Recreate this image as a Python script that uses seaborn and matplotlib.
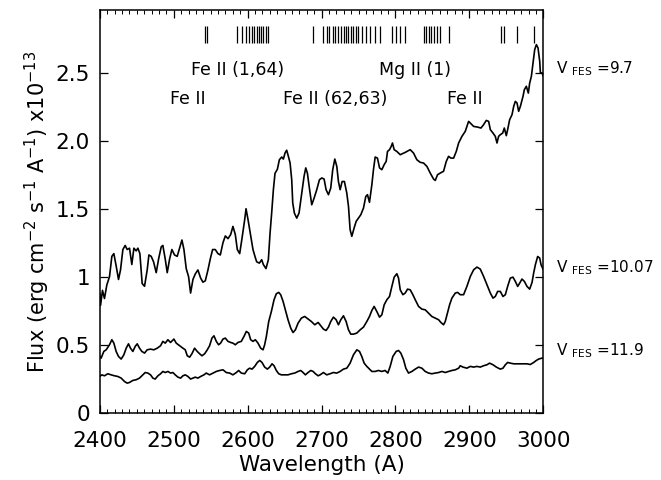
import numpy as np
import pandas as pd
import matplotlib
matplotlib.use("Agg")
import matplotlib.pyplot as plt
from matplotlib.ticker import MultipleLocator, FixedLocator, FixedFormatter
import seaborn as sns

# --- spectrum for V_FES = 9.7 (top) ---
wave_97 = [2400, 2401, 2403.6, 2406.3, 2409.5, 2413.1, 2416.3, 2419.0, 2422.1, 2425.3,
           2428.0, 2431.2, 2434.3, 2437.0, 2440.2, 2443.3, 2446.1, 2449.2, 2451.5, 2454.2,
           2457.3, 2460.5, 2464.1, 2466.4, 2469.5, 2472.7, 2476.3, 2479.5, 2483.1, 2485.3,
           2488.5, 2491.2, 2494.4, 2497.5, 2501.1, 2504.7, 2507.9, 2511.1, 2513.8, 2516.9,
           2520.1, 2522.8, 2526.0, 2529.1, 2532.7, 2536.4, 2539.5, 2542.7, 2546.3, 2549.4,
           2552.6, 2556.2, 2559.8, 2563.0, 2566.6, 2569.8, 2573.4, 2577.0, 2580.1, 2583.3,
           2586.0, 2589.2, 2592.3, 2596.0, 2597.8, 2600.5, 2604.1, 2607.2, 2610.4, 2612.2,
           2615.8, 2619.0, 2621.2, 2624.8, 2628.0, 2630.3, 2632.5, 2634.8, 2637.0, 2640.2,
           2642.9, 2646.1, 2648.3, 2650.6, 2652.8, 2655.1, 2657.4, 2659.6, 2661.0, 2663.2,
           2666.4, 2669.5, 2673.2, 2676.3, 2678.6, 2680.8, 2683.5, 2686.7, 2689.9, 2693.5,
           2697.1, 2700.3, 2703.4, 2706.1, 2709.3, 2712.4, 2715.1, 2717.9, 2720.6, 2722.8,
           2725.1, 2727.8, 2730.9, 2734.1, 2736.4, 2738.6, 2740.9, 2744.0, 2746.8, 2749.9,
           2753.1, 2756.7, 2759.8, 2762.1, 2764.8, 2768.0, 2770.2, 2772.5, 2775.6, 2778.4,
           2781.5, 2784.7, 2787.4, 2789.2, 2791.9, 2794.2, 2795.9, 2798.2, 2801.8, 2806.4,
           2813.1, 2819.9, 2824.4, 2828.9, 2833.4, 2837.9, 2842.5, 2847.0, 2851.5, 2853.8,
           2856.9, 2860.5, 2865.0, 2868.7, 2871.8, 2875.0, 2878.6, 2882.2, 2885.4, 2889.9,
           2894.4, 2898.9, 2902.1, 2905.7, 2911.0, 2915.6, 2919.2, 2922.8, 2926.0, 2928.3,
           2931.9, 2935.0, 2937.3, 2939.5, 2941.8, 2945.0, 2947.2, 2949.9, 2951.7, 2954.4,
           2957.6, 2959.9, 2962.1, 2964.4, 2966.6, 2968.9, 2972.5, 2974.3, 2977.0, 2979.7,
           2981.5, 2983.8, 2986.1, 2988.3, 2990.6, 2992.8, 2995.1, 2996.0, 2998.2, 3000]
flux_97 = [0.88, 0.79, 0.90, 0.84, 0.94, 1.00, 1.15, 1.17, 1.08, 0.98,
           1.05, 1.20, 1.23, 1.20, 1.21, 1.09, 1.21, 1.19, 1.21, 1.17,
           0.95, 0.93, 1.05, 1.16, 1.15, 1.11, 1.03, 1.13, 1.22, 1.23,
           1.13, 1.03, 1.13, 1.20, 1.16, 1.15, 1.21, 1.27, 1.20, 1.06,
           1.00, 0.88, 0.98, 1.02, 1.05, 0.99, 0.96, 0.97, 1.05, 1.13,
           1.20, 1.20, 1.17, 1.16, 1.25, 1.30, 1.28, 1.31, 1.37, 1.31,
           1.20, 1.17, 1.28, 1.42, 1.50, 1.42, 1.30, 1.20, 1.14, 1.11,
           1.10, 1.125, 1.09, 1.06, 1.125, 1.32, 1.47, 1.64, 1.76, 1.79,
           1.86, 1.88, 1.865, 1.91, 1.93, 1.885, 1.836, 1.713, 1.542, 1.468,
           1.431, 1.468, 1.615, 1.738, 1.80, 1.762, 1.652, 1.529, 1.578, 1.64,
           1.713, 1.726, 1.718, 1.64, 1.603, 1.652, 1.787, 1.865, 1.811, 1.70,
           1.64, 1.70, 1.70, 1.615, 1.517, 1.346, 1.297, 1.358, 1.407, 1.431,
           1.456, 1.505, 1.59, 1.603, 1.547, 1.676, 1.787, 1.88, 1.872, 1.80,
           1.787, 1.824, 1.848, 1.921, 1.934, 1.958, 1.983, 1.934, 1.921, 1.897,
           1.914, 1.934, 1.909, 1.86, 1.841, 1.836, 1.811, 1.762, 1.718, 1.708,
           1.75, 1.762, 1.775, 1.848, 1.885, 1.872, 1.872, 1.921, 1.983, 2.032,
           2.069, 2.142, 2.125, 2.105, 2.10, 2.093, 2.118, 2.149, 2.142, 2.081,
           2.056, 2.032, 1.983, 2.032, 2.044, 2.056, 2.093, 2.037, 2.081, 2.154,
           2.191, 2.252, 2.289, 2.277, 2.216, 2.252, 2.326, 2.375, 2.40, 2.35,
           2.423, 2.473, 2.571, 2.669, 2.706, 2.682, 2.583, 2.498, 2.498, 2.473]

# --- spectrum for V_FES = 10.07 (middle) ---
wave_1007 = [2400, 2401.8, 2405.4, 2408.6, 2413.1, 2416.3, 2419.0, 2422.1, 2425.3, 2428.9,
             2432.5, 2435.7, 2438.8, 2441.5, 2444.7, 2447.9, 2450.6, 2453.7, 2456.9, 2460.5,
             2464.1, 2468.6, 2473.1, 2477.7, 2482.2, 2485.3, 2488.5, 2492.1, 2495.7, 2500.2,
             2503.4, 2507.9, 2512.4, 2515.6, 2518.3, 2521.5, 2524.6, 2528.2, 2531.8, 2535.0,
             2538.2, 2541.8, 2545.4, 2548.5, 2551.7, 2554.4, 2557.6, 2560.7, 2563.4, 2566.6,
             2569.8, 2573.4, 2577.0, 2580.1, 2583.3, 2586.9, 2591.4, 2595.0, 2598.2, 2601.4,
             2604.1, 2607.2, 2610.4, 2614.0, 2617.6, 2620.8, 2623.0, 2625.3, 2628.5, 2632.1,
             2635.7, 2638.8, 2642.0, 2644.7, 2647.9, 2651.0, 2654.6, 2658.3, 2661.4, 2664.6,
             2668.2, 2672.7, 2677.2, 2681.7, 2686.2, 2690.8, 2695.3, 2697.9, 2702.5, 2706.1,
             2709.3, 2712.4, 2716.0, 2719.7, 2722.8, 2726.0, 2729.6, 2733.2, 2736.4, 2739.5,
             2743.1, 2747.7, 2752.2, 2756.7, 2761.2, 2764.8, 2768.0, 2771.1, 2774.7, 2778.4,
             2781.5, 2784.7, 2788.3, 2791.9, 2795.1, 2798.2, 2801.8, 2804.1, 2806.4, 2810.0,
             2813.1, 2816.3, 2819.9, 2823.5, 2826.7, 2831.2, 2835.7, 2840.2, 2844.7, 2849.2,
             2853.8, 2858.3, 2861.4, 2865.0, 2867.3, 2869.6, 2873.2, 2876.3, 2880.9, 2884.0,
             2887.6, 2892.1, 2896.6, 2901.2, 2905.7, 2910.2, 2914.7, 2919.2, 2923.7, 2928.3,
             2931.9, 2935.0, 2938.2, 2941.8, 2945.4, 2948.6, 2951.7, 2955.3, 2958.9, 2962.1,
             2965.3, 2968.0, 2971.1, 2974.3, 2977.9, 2981.5, 2984.7, 2986.9, 2989.2, 2992.3,
             2995.1, 2996.9, 3000]
flux_1007 = [0.414, 0.402, 0.451, 0.463, 0.50, 0.537, 0.512, 0.451, 0.414, 0.395,
             0.426, 0.475, 0.507, 0.475, 0.451, 0.488, 0.507, 0.475, 0.451, 0.439,
             0.463, 0.468, 0.463, 0.475, 0.493, 0.525, 0.512, 0.537, 0.517, 0.542,
             0.512, 0.493, 0.475, 0.463, 0.419, 0.409, 0.434, 0.475, 0.451, 0.434,
             0.419, 0.434, 0.463, 0.493, 0.549, 0.566, 0.525, 0.50, 0.512, 0.542,
             0.549, 0.525, 0.517, 0.512, 0.50, 0.517, 0.525, 0.561, 0.598, 0.586,
             0.537, 0.525, 0.537, 0.512, 0.475, 0.463, 0.50, 0.561, 0.671, 0.745,
             0.831, 0.875, 0.885, 0.868, 0.819, 0.757, 0.684, 0.622, 0.59, 0.61,
             0.659, 0.696, 0.708, 0.689, 0.671, 0.647, 0.664, 0.647, 0.615, 0.605,
             0.630, 0.671, 0.703, 0.684, 0.647, 0.684, 0.713, 0.671, 0.61, 0.578,
             0.578, 0.586, 0.61, 0.630, 0.671, 0.708, 0.752, 0.782, 0.745, 0.703,
             0.72, 0.794, 0.831, 0.855, 0.929, 0.997, 1.022, 0.99, 0.904, 0.868,
             0.88, 0.909, 0.904, 0.868, 0.831, 0.782, 0.762, 0.757, 0.733, 0.708,
             0.696, 0.684, 0.664, 0.647, 0.671, 0.72, 0.794, 0.843, 0.88, 0.885,
             0.868, 0.868, 0.929, 1.002, 1.051, 1.071, 1.056, 1.002, 0.941, 0.88,
             0.843, 0.855, 0.892, 0.892, 0.855, 0.868, 0.929, 0.99, 0.997, 0.966,
             0.929, 0.953, 0.983, 0.966, 0.929, 0.909, 0.958, 1.027, 1.088, 1.149,
             1.137, 1.088, 1.051]

# --- spectrum for V_FES = 11.9 (bottom) ---
wave_119 = [2400, 2402.7, 2406.3, 2410.8, 2415.3, 2419.9, 2424.4, 2428.9, 2433.4, 2437.0,
            2440.2, 2444.7, 2449.2, 2453.7, 2458.2, 2461.4, 2465.0, 2468.6, 2471.8, 2474.9,
            2478.6, 2482.2, 2485.3, 2488.5, 2492.1, 2495.7, 2498.9, 2502.0, 2505.7, 2509.3,
            2512.4, 2515.6, 2519.2, 2522.8, 2526.0, 2529.1, 2532.7, 2536.4, 2540.9, 2544.0,
            2548.5, 2553.1, 2557.6, 2562.1, 2566.6, 2571.1, 2575.6, 2580.1, 2584.7, 2587.8,
            2591.4, 2596.0, 2599.6, 2602.7, 2605.9, 2609.5, 2613.1, 2616.3, 2619.4, 2623.0,
            2626.6, 2629.8, 2633.0, 2635.7, 2638.8, 2642.0, 2645.6, 2650.1, 2654.6, 2659.2,
            2663.7, 2668.2, 2671.8, 2675.0, 2678.1, 2681.7, 2685.4, 2688.5, 2691.7, 2695.3,
            2698.0, 2702.5, 2707.0, 2711.5, 2716.0, 2720.6, 2725.1, 2729.6, 2734.1, 2738.6,
            2743.1, 2747.7, 2751.3, 2754.4, 2757.6, 2761.2, 2764.8, 2768.0, 2772.5, 2777.0,
            2781.5, 2786.0, 2789.6, 2792.8, 2796.4, 2800.9, 2804.1, 2807.2, 2810.9, 2814.0,
            2817.6, 2822.2, 2826.7, 2831.2, 2835.7, 2840.2, 2844.7, 2849.2, 2853.8, 2858.3,
            2862.8, 2867.3, 2871.8, 2876.3, 2880.9, 2885.4, 2887.6, 2891.2, 2896.6, 2901.2,
            2905.7, 2910.2, 2914.7, 2919.2, 2923.7, 2927.3, 2931.9, 2936.4, 2941.8, 2945.4,
            2948.6, 2951.7, 2955.3, 2959.9, 2964.4, 2968.9, 2973.4, 2977.9, 2982.4, 2986.9,
            2990.6, 2993.7, 2998.2, 3000]
flux_119 = [0.267, 0.279, 0.272, 0.287, 0.279, 0.272, 0.267, 0.255, 0.23, 0.218,
            0.223, 0.238, 0.243, 0.255, 0.279, 0.296, 0.292, 0.279, 0.255, 0.248,
            0.272, 0.287, 0.304, 0.296, 0.304, 0.292, 0.296, 0.279, 0.262, 0.255,
            0.272, 0.279, 0.267, 0.248, 0.255, 0.262, 0.255, 0.267, 0.279, 0.292,
            0.279, 0.292, 0.304, 0.311, 0.316, 0.296, 0.292, 0.279, 0.296, 0.311,
            0.292, 0.287, 0.316, 0.328, 0.321, 0.341, 0.37, 0.385, 0.37, 0.336,
            0.321, 0.336, 0.36, 0.346, 0.311, 0.287, 0.279, 0.279, 0.279, 0.287,
            0.292, 0.304, 0.311, 0.296, 0.279, 0.296, 0.311, 0.304, 0.287, 0.272,
            0.279, 0.296, 0.279, 0.287, 0.296, 0.292, 0.304, 0.321, 0.328, 0.365,
            0.426, 0.463, 0.451, 0.414, 0.365, 0.341, 0.321, 0.304, 0.304, 0.311,
            0.304, 0.311, 0.292, 0.341, 0.414, 0.451, 0.458, 0.439, 0.39, 0.328,
            0.292, 0.304, 0.321, 0.336, 0.328, 0.304, 0.292, 0.287, 0.292, 0.296,
            0.304, 0.296, 0.304, 0.311, 0.316, 0.328, 0.346, 0.336, 0.328, 0.341,
            0.336, 0.341, 0.336, 0.346, 0.353, 0.365, 0.353, 0.336, 0.321, 0.328,
            0.353, 0.37, 0.365, 0.36, 0.36, 0.36, 0.36, 0.36, 0.355, 0.37,
            0.385, 0.395, 0.402, 0.402]

# identified line positions (tick marks along the top)
line_waves = [2542, 2545,
              2585.1, 2591.9, 2597.8, 2602.2, 2606.3, 2609.0, 2612.2, 2615.4, 2618.1,
              2621.2, 2624.5, 2627.2,
              2688.1, 2701.6, 2707.0, 2710.6, 2715.2, 2718.3, 2721.9, 2726.0, 2730.5,
              2733.2, 2736.4, 2739.5, 2743.1, 2746.3, 2749.9, 2754.4, 2760.3, 2765.7,
              2772.5, 2778.4,
              2795.1, 2800.9, 2806.4, 2813.1,
              2837.9, 2841.6, 2844.7, 2847.9, 2851.5, 2856.0, 2860.5, 2871.8,
              2942.7, 2946.3, 2964.4, 2986.9]

line_labels = ["Fe II (1,64)", "Mg II (1)", "Fe II", "Fe II (62,63)", "Fe II"]
label_waves = [2586, 2827, 2519, 2718, 2894]
label_flux = [2.52, 2.52, 2.31, 2.31, 2.31]

series_names = ["9.7", "10.07", "11.9"]
series_label_flux = [2.53, 1.07, 0.455]

yticks = [0, 0.5, 1.0, 1.5, 2.0, 2.5]
ytick_labels = ["0", "0.5", "1", "1.5", "2.0", "2.5"]
xticks = [2400, 2500, 2600, 2700, 2800, 2900, 3000]

sns.set_theme(style="ticks")
plt.rcParams["font.family"] = ["DejaVu Sans"]
plt.rcParams["mathtext.fontset"] = "dejavusans"

fig = plt.figure(figsize=(6.61, 4.8), dpi=100)
ax = fig.add_axes([0.151, 0.140, 0.671, 0.839])

for w, f in [(wave_97, flux_97), (wave_1007, flux_1007), (wave_119, flux_119)]:
    sns.lineplot(x=w, y=f, ax=ax, color="black", linewidth=1.2,
                 estimator=None, sort=False, legend=False)

ax.vlines(line_waves, 2.72, 2.84, color="black", linewidth=0.9)

for txt, xw, yf in zip(line_labels, label_waves, label_flux):
    ax.text(xw, yf, txt, ha="center", va="center", fontsize=12.5, color="black")

for name, yf in zip(series_names, series_label_flux):
    ax.text(3017, yf, r"V $_{\mathsf{FES}}$ =" + name, ha="left", va="center",
            fontsize=11, color="black", clip_on=False)

ax.set_xlim(2400, 3000)
ax.set_ylim(0, 2.96)
ax.xaxis.set_major_locator(FixedLocator(xticks))
ax.xaxis.set_minor_locator(MultipleLocator(10))
ax.yaxis.set_major_locator(FixedLocator(yticks))
ax.yaxis.set_major_formatter(FixedFormatter(ytick_labels))

ax.tick_params(which="both", direction="in", top=True, right=True, colors="black")
ax.tick_params(which="major", length=6, width=0.9, labelsize=15.5)
ax.tick_params(which="minor", length=3, width=0.7)
ax.tick_params(axis="x", which="major", pad=13)
ax.tick_params(axis="y", which="major", pad=7)
for sp in ax.spines.values():
    sp.set_linewidth(1.1)
    sp.set_color("black")

ax.set_xlabel("Wavelength (A)", fontsize=15.5, labelpad=3, color="black")
ax.set_ylabel(r"Flux (erg cm$^{-2}$ s$^{-1}$ A$^{-1}$) x10$^{-13}$", fontsize=15,
              labelpad=3, color="black")

fig.savefig("out.png", dpi=100, facecolor="white")
